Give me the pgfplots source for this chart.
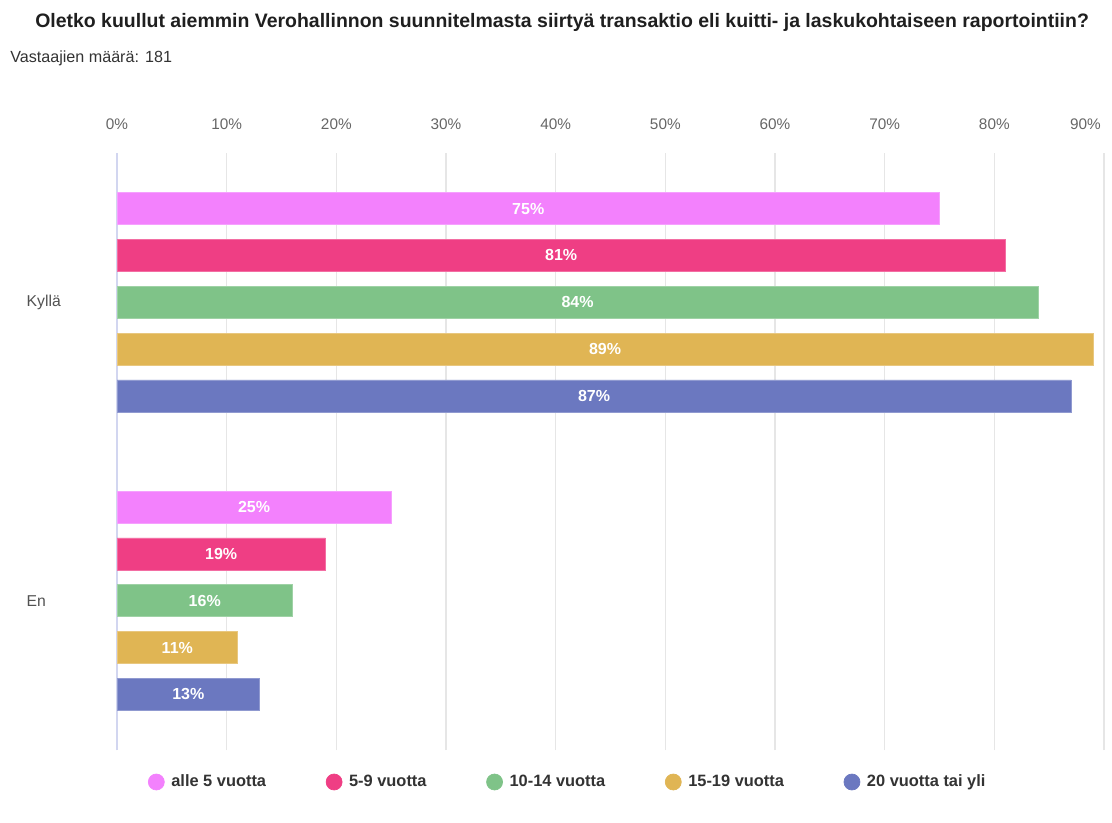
\documentclass[border=0pt]{standalone}
\usepackage{fontspec}
\setmainfont{Liberation Sans}
\usepackage{pgfplots}
\pgfplotsset{compat=1.18}
\definecolor{cA}{HTML}{F381FD}
\definecolor{cB}{HTML}{EF3E84}
\definecolor{cC}{HTML}{7FC388}
\definecolor{cD}{HTML}{E0B554}
\definecolor{cE}{HTML}{6B78C0}
\definecolor{gridc}{HTML}{E6E6E6}
\definecolor{axisc}{HTML}{D2D6F0}
\definecolor{tickc}{HTML}{666666}
\pgfplotsset{
  mybar/.style={xbar, bar width=24pt, bar shift=0pt, fill=#1, draw=#1!75!white, line width=0.5pt,
    legend image code/.code={\fill[#1] (0pt,0pt) circle (6pt); \path (9pt,0pt);},
    visualization depends on={x \as \rawx},
    point meta=x,
    nodes near coords={\pgfmathprintnumber{\pgfplotspointmeta}\%},
    every node near coord/.append style={anchor=center, text=white, font=\bfseries\fontsize{12}{14}\selectfont, xshift={-4.1125pt*\rawx}}},
}
\begin{document}
\begin{tikzpicture}
\path[use as bounding box, fill=white] (0,0) rectangle (834pt,-617.25pt);
\node[anchor=base west, inner sep=0pt, font=\bfseries\fontsize{14.6}{17}\selectfont, text=black!88] at (26.25pt,-21pt)
  {Oletko kuullut aiemmin Verohallinnon suunnitelmasta siirtyä transaktio eli kuitti- ja laskukohtaiseen raportointiin?};
\node[anchor=base west, inner sep=0pt, font=\fontsize{12.1}{14}\selectfont, text=black!80] at (7.5pt,-47.25pt)
  {Vastaajien määrä: 181};
\begin{axis}[
  at={(87.75pt,-562.5pt)}, anchor=south west,
  scale only axis, width=740.25pt, height=447.75pt,
  /pgf/number format/assume math mode=true,
  xmin=0, xmax=90, ymin=-0.5, ymax=1.5,
  axis x line*=top, axis y line*=left,
  x axis line style={draw=none},
  y axis line style={draw=axisc, line width=0.9pt, -},
  xtick={0,10,...,80},
  extra x ticks={90},
  extra x tick style={xticklabel style={xshift=-14pt}},
  xticklabel={\pgfmathprintnumber{\tick}\%},
  xticklabel style={anchor=south, inner sep=0pt, yshift=17pt, text=tickc, font=\fontsize{11.5}{13}\selectfont},
  xmajorgrids, grid style={draw=gridc, line width=0.9pt},
  major tick length=0pt,
  ytick={0,1}, yticklabels={En,Kyllä},
  yticklabel style={anchor=east, text width=67.5pt, align=left, inner sep=0pt, text=black!68, font=\fontsize{11.8}{13}\selectfont},
  legend style={at={(0.457,-0.0536)}, anchor=center, draw=none, fill=none,
    font=\bfseries\fontsize{12.3}{14}\selectfont, text=black!80,
    /tikz/every even column/.append style={column sep=42.75pt}},
  legend columns=5, legend cell align=left,
  clip=false,
]
\addplot[mybar=cA] coordinates {(75,1.314) (25,0.314)};
\addlegendentry{alle 5 vuotta}
\addplot[mybar=cB] coordinates {(81,1.157) (19,0.157)};
\addlegendentry{5-9 vuotta}
\addplot[mybar=cC] coordinates {(84,1.0) (16,0.0)};
\addlegendentry{10-14 vuotta}
\addplot[mybar=cD] coordinates {(89,0.843) (11,-0.157)};
\addlegendentry{15-19 vuotta}
\addplot[mybar=cE] coordinates {(87,0.686) (13,-0.314)};
\addlegendentry{20 vuotta tai yli}
\end{axis}
\end{tikzpicture}
\end{document}
